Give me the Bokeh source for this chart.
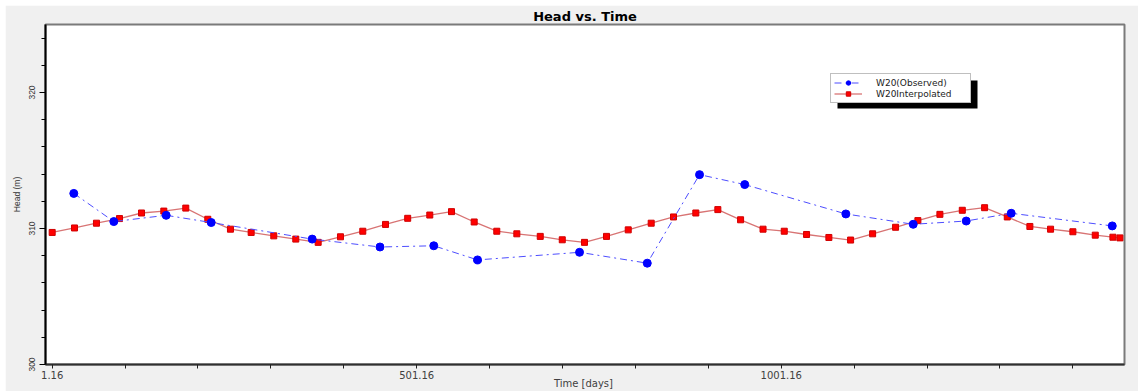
from bokeh.plotting import figure
from bokeh.models import (Range1d, FixedTicker, Legend, LegendItem,
                          BoxAnnotation)
from bokeh.embed import file_html
from bokeh.resources import INLINE

# Observed heads at well W20
obs_days = [30.8, 85.7, 157.5, 219.3, 357.8, 450.8, 524.6, 584.6, 724.5,
            817.4, 889.1, 951.1, 1089.8, 1182.2, 1254.9, 1316.6, 1455.2]
obs_head = [312.58, 310.51, 310.97, 310.44, 309.22, 308.64, 308.73, 307.69,
            308.25, 307.45, 313.96, 313.23, 311.07, 310.31, 310.55, 311.12,
            310.19]

# Interpolated (simulated) heads at W20, monthly output
int_days = [1.16, 31.8, 61.9, 93.5, 123.7, 154.3, 184.4, 214.6, 245.7, 274.1,
            305.1, 335.3, 366.0, 396.6, 427.2, 458.4, 488.8, 519.1, 548.9,
            580.0, 611.0, 638.5, 670.6, 700.8, 731.3, 761.5, 791.3, 822.8,
            853.4, 884.0, 914.2, 945.4, 976.2, 1005.3, 1035.9, 1066.5, 1096.3,
            1126.5, 1158.0, 1188.6, 1218.8, 1249.5, 1280.1, 1311.2, 1342.2,
            1370.6, 1401.2, 1431.9, 1456.1, 1465.7]
int_head = [309.71, 310.04, 310.39, 310.73, 311.14, 311.28, 311.50, 310.68,
            309.95, 309.71, 309.46, 309.22, 308.98, 309.39, 309.80, 310.30,
            310.75, 310.99, 311.24, 310.48, 309.80, 309.61, 309.42, 309.17,
            308.98, 309.42, 309.90, 310.39, 310.85, 311.14, 311.39, 310.64,
            309.95, 309.80, 309.56, 309.34, 309.15, 309.61, 310.09, 310.58,
            311.04, 311.34, 311.53, 310.85, 310.15, 309.95, 309.76, 309.51,
            309.36, 309.31]

series_labels = ["W20(Observed)", "W20Interpolated"]

x_ticks = [1.16, 501.16, 1001.16]
x_tick_labels = ["1.16", "501.16", "1001.16"]
x_minor = [101.16, 201.16, 301.16, 401.16, 601.16, 701.16, 801.16, 901.16,
           1101.16, 1201.16, 1301.16, 1401.16]
y_ticks = [300, 310, 320]
y_minor = [302, 304, 306, 308, 312, 314, 316, 318, 322, 324]

p = figure(width=1133, height=386, margin=(5, 0, 0, 5),
           x_range=Range1d(-8, 1472), y_range=Range1d(300, 325),
           output_backend="svg", toolbar_location=None,
           min_border_left=40, min_border_right=14,
           min_border_top=18, min_border_bottom=27,
           title="Head vs. Time")

p.border_fill_color = "#f0f0f0"
p.background_fill_color = "white"
p.outline_line_color = "#7a7a7a"
p.outline_line_width = 2
p.xgrid.visible = False
p.ygrid.visible = False

p.title.align = "center"
p.title.text_font = "DejaVu Sans"
p.title.text_font_size = "13px"
p.title.text_font_style = "bold"
p.title.text_color = "black"
p.title.standoff = 2

# interpolated series
int_line = p.line(int_days, int_head, line_color="#d87474", line_width=1.3)
int_mark = p.scatter(int_days, int_head, marker="square", size=6,
                     fill_color="#ff0000", line_color="#d00000")

# observed series
obs_line = p.line(obs_days, obs_head, line_color="#4d4dff", line_width=1,
                  line_dash="7 4 2 4")
obs_mark = p.scatter(obs_days, obs_head, marker="circle", size=8,
                     fill_color="#0000ff", line_color="#0000ff")

# axes
xa = p.xaxis[0]
xa.ticker = FixedTicker(ticks=x_ticks, minor_ticks=x_minor)
xa.major_label_overrides = dict(zip(x_ticks, x_tick_labels))
xa.major_tick_out = 4
xa.major_tick_in = 0
xa.minor_tick_out = 4
xa.minor_tick_in = 0
xa.axis_line_width = 2
xa.axis_line_color = "#303030"
xa.major_tick_line_color = "#202020"
xa.minor_tick_line_color = "#202020"
xa.major_label_standoff = 2
xa.major_label_text_font = "DejaVu Sans"
xa.major_label_text_font_size = "10px"
xa.major_label_text_color = "#404040"
xa.axis_label = "Time  [days]"
xa.axis_label_standoff = -4
xa.axis_label_text_font = "DejaVu Sans"
xa.axis_label_text_font_size = "10px"
xa.axis_label_text_font_style = "normal"
xa.axis_label_text_color = "#404040"

ya = p.yaxis[0]
ya.ticker = FixedTicker(ticks=y_ticks, minor_ticks=y_minor)
ya.major_tick_out = 6
ya.major_tick_in = 0
ya.minor_tick_out = 4
ya.minor_tick_in = 0
ya.axis_line_width = 2
ya.axis_line_color = "black"
ya.major_label_orientation = "vertical"
ya.major_label_standoff = 5
ya.major_label_text_font = "Liberation Sans"
ya.major_label_text_font_size = "8.5px"
ya.major_label_text_color = "#333333"
ya.axis_label = "Head (m)"
ya.axis_label_standoff = 4
ya.axis_label_text_font = "Liberation Sans"
ya.axis_label_text_font_size = "8.5px"
ya.axis_label_text_font_style = "normal"
ya.axis_label_text_color = "#333333"

# legend with a drop shadow
p.add_layout(BoxAnnotation(left=792, right=932, top=284, bottom=256,
                           left_units="screen", right_units="screen",
                           top_units="screen", bottom_units="screen",
                           fill_color="black", fill_alpha=1,
                           line_color=None))

legend = Legend(items=[LegendItem(label=series_labels[0],
                                  renderers=[obs_line, obs_mark]),
                       LegendItem(label=series_labels[1],
                                  renderers=[int_line, int_mark])],
                location=(785, 261), orientation="vertical",
                padding=3, margin=0, spacing=0,
                glyph_width=28, glyph_height=11,
                label_height=11, label_width=91, label_standoff=14,
                border_line_color="#808080", border_line_width=1,
                background_fill_color="white", background_fill_alpha=1,
                label_text_font="DejaVu Sans", label_text_font_size="9px",
                label_text_color="#222222")
p.add_layout(legend, "center")

open("out.html", "w").write(file_html(p, INLINE))
